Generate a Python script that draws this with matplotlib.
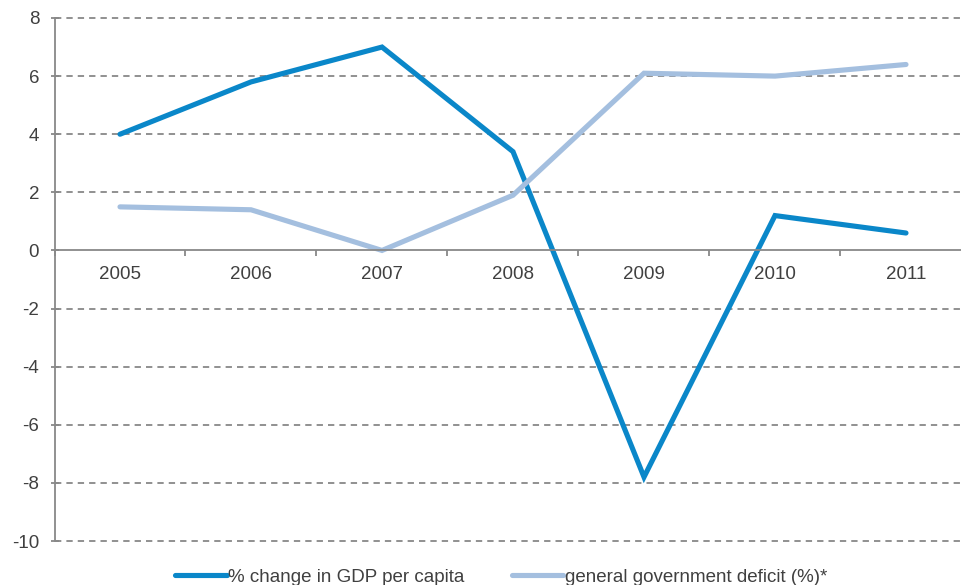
import matplotlib.pyplot as plt
import numpy as np

plt.rcParams['font.family'] = ['Liberation Sans', 'DejaVu Sans']
plt.rcParams['axes.unicode_minus'] = False

# Données
years = ["2005", "2006", "2007", "2008", "2009", "2010", "2011"]
gdp_change = [4.0, 5.8, 7.0, 3.4, -7.8, 1.2, 0.6]
deficit = [1.5, 1.4, 0.0, 1.9, 6.1, 6.0, 6.4]

gris = "#888888"
texte = "#404040"

fig = plt.figure(figsize=(9.62, 5.85), dpi=100)
ax = fig.add_axes([54.5 / 962, 44 / 585, 917 / 962, 523 / 585])

x = np.arange(len(years))
ax.plot(x, gdp_change, color="#0a87c9", linewidth=3.7,
        solid_capstyle="round", solid_joinstyle="miter",
        label="% change in GDP per capita")
ax.plot(x, deficit, color="#a4bfdf", linewidth=3.7,
        solid_capstyle="round", solid_joinstyle="miter",
        label="general government deficit (%)*")

ax.set_xlim(-0.5, len(years) - 0.5)
ax.set_ylim(-10, 8)
ax.set_yticks(range(-10, 9, 2))

# Lignes de grille pointillées
for yv in range(-10, 9, 2):
    if yv != 0:
        ax.axhline(yv, color=gris, linewidth=1.3, linestyle=(0, (3.5, 2.8)),
                   zorder=0, clip_on=False)

# Axes
for s in ["top", "right"]:
    ax.spines[s].set_visible(False)
ax.spines["bottom"].set_position(("data", 0))
ax.spines["bottom"].set_color(gris)
ax.spines["left"].set_color(gris)
ax.spines["left"].set_linewidth(1.3)
ax.spines["bottom"].set_linewidth(1.3)

ax.set_xticks(x)
ax.set_xticklabels(years)
ax.set_xticks(np.arange(-0.5, len(years), 1), minor=True)
ax.tick_params(axis="x", which="major", length=0, pad=11, labelsize=13.5, colors=texte)
ax.tick_params(axis="x", which="minor", length=4, direction="out", color=gris, width=1.3)
ax.tick_params(axis="y", length=6, direction="inout", color=gris, width=1.3,
               labelsize=13.5, labelcolor=texte, pad=8)

leg = fig.legend(loc="lower center", bbox_to_anchor=(0.521, -0.03), ncol=2, frameon=False,
                 fontsize=13.5, handlelength=2.75, handletextpad=0.1, columnspacing=2.5)
for t in leg.get_texts():
    t.set_color(texte)

plt.savefig("out.png", dpi=100)
